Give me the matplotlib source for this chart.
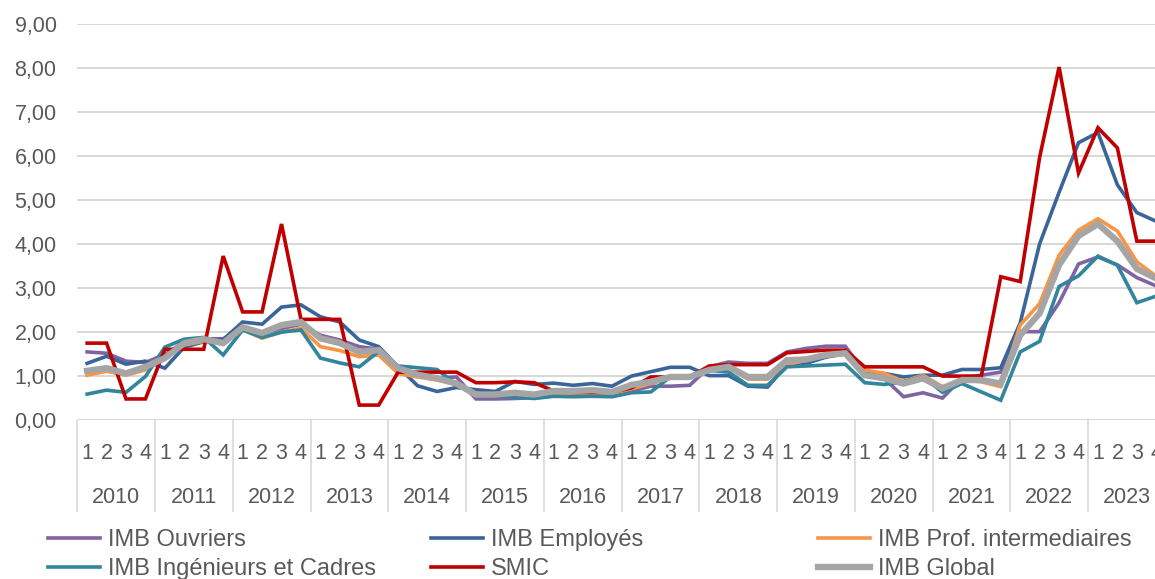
import matplotlib.pyplot as plt
from matplotlib.ticker import FuncFormatter

plt.rcParams['font.family'] = ['Liberation Sans', 'DejaVu Sans']

years = [str(y) for y in range(2010, 2024)]
quarters = ['1', '2', '3', '4']

ouvriers = [1.54, 1.51, 1.33, 1.30, 1.48, 1.77, 1.84, 1.84,
            2.07, 1.96, 2.07, 2.17, 1.92, 1.81, 1.66, 1.60,
            1.12, 1.02, 0.95, 0.97, 0.47, 0.47, 0.48, 0.50,
            0.55, 0.55, 0.57, 0.56, 0.65, 0.76, 0.76, 0.78,
            1.20, 1.31, 1.28, 1.28, 1.54, 1.62, 1.67, 1.67,
            1.08, 0.94, 0.52, 0.61, 0.49, 0.94, 1.01, 1.08,
            2.00, 2.00, 2.66, 3.54, 3.70, 3.52, 3.23, 3.04]
employes = [1.28, 1.44, 1.26, 1.33, 1.17, 1.65, 1.77, 1.82,
            2.22, 2.17, 2.56, 2.61, 2.34, 2.22, 1.81, 1.66,
            1.20, 0.77, 0.64, 0.73, 0.68, 0.64, 0.87, 0.80,
            0.83, 0.78, 0.82, 0.76, 0.99, 1.09, 1.19, 1.19,
            1.00, 1.00, 0.76, 0.74, 1.24, 1.28, 1.42, 1.50,
            1.08, 1.05, 0.97, 1.01, 1.01, 1.14, 1.14, 1.18,
            2.20, 4.00, 5.17, 6.30, 6.53, 5.34, 4.71, 4.51]
prof_inter = [1.01, 1.10, 1.01, 1.13, 1.42, 1.70, 1.78, 1.75,
              2.04, 1.85, 1.99, 2.08, 1.66, 1.57, 1.43, 1.47,
              1.05, 0.97, 0.90, 0.80, 0.55, 0.55, 0.57, 0.55,
              0.58, 0.58, 0.60, 0.58, 0.70, 0.82, 0.95, 0.95,
              1.15, 1.18, 0.92, 0.92, 1.25, 1.35, 1.48, 1.50,
              1.13, 1.05, 0.87, 1.01, 0.75, 0.90, 0.86, 0.75,
              2.15, 2.64, 3.74, 4.31, 4.57, 4.29, 3.59, 3.26]
ingenieurs = [0.58, 0.67, 0.62, 0.98, 1.65, 1.83, 1.87, 1.47,
              2.04, 1.87, 1.99, 2.04, 1.40, 1.29, 1.20, 1.55,
              1.22, 1.18, 1.14, 0.80, 0.54, 0.54, 0.51, 0.48,
              0.53, 0.52, 0.53, 0.52, 0.61, 0.63, 0.97, 0.97,
              1.12, 1.08, 0.78, 0.78, 1.20, 1.22, 1.24, 1.26,
              0.84, 0.80, 0.86, 0.98, 0.62, 0.82, 0.63, 0.44,
              1.54, 1.78, 3.03, 3.27, 3.72, 3.51, 2.66, 2.81]
smic = [1.74, 1.74, 0.47, 0.47, 1.60, 1.60, 1.60, 3.72,
        2.45, 2.45, 4.45, 2.28, 2.28, 2.28, 0.33, 0.33,
        1.08, 1.08, 1.08, 1.08, 0.84, 0.84, 0.86, 0.84,
        0.65, 0.62, 0.62, 0.62, 0.72, 0.97, 0.97, 0.97,
        1.22, 1.25, 1.25, 1.25, 1.52, 1.55, 1.58, 1.58,
        1.20, 1.20, 1.20, 1.20, 0.99, 0.99, 0.99, 3.25,
        3.14, 5.97, 8.02, 5.61, 6.64, 6.18, 4.06, 4.06]
imb_global = [1.11, 1.17, 1.05, 1.20, 1.40, 1.74, 1.83, 1.74,
              2.10, 1.97, 2.15, 2.22, 1.85, 1.74, 1.54, 1.58,
              1.17, 1.02, 0.94, 0.82, 0.57, 0.57, 0.61, 0.57,
              0.65, 0.65, 0.67, 0.63, 0.79, 0.86, 0.97, 0.97,
              1.13, 1.20, 0.97, 0.97, 1.35, 1.37, 1.47, 1.51,
              1.01, 0.94, 0.82, 0.94, 0.71, 0.90, 0.90, 0.82,
              1.92, 2.42, 3.52, 4.18, 4.45, 4.06, 3.43, 3.21]

series = [
    ('IMB Ouvriers', ouvriers, '#8064A2', 2.6),
    ('IMB Employés', employes, '#3A6598', 2.6),
    ('IMB Prof. intermediaires', prof_inter, '#F79646', 2.6),
    ('IMB Ingénieurs et Cadres', ingenieurs, '#31859C', 2.6),
    ('SMIC', smic, '#C00000', 2.6),
    ('IMB Global', imb_global, '#A5A5A5', 4.6),
]

txt = '#595959'
grid = '#D9D9D9'

fig = plt.figure(figsize=(11.55, 5.79), dpi=100)
ax = fig.add_axes([77.4 / 1155, 1 - 419.6 / 579, 1088.6 / 1155, 395.6 / 579])

x = list(range(len(smic)))
handles = []
for name, vals, col, lw in series:
    h, = ax.plot(x, vals, color=col, lw=lw, label=name, solid_joinstyle='miter')
    handles.append(h)

ax.set_xlim(-0.5, len(x) - 0.5)
ax.set_ylim(0, 9)
ax.set_yticks(range(0, 10))
ax.yaxis.set_major_formatter(FuncFormatter(lambda v, p: f"{v:.2f}".replace('.', ',')))
ax.yaxis.grid(True, color=grid, lw=1.5)
ax.set_axisbelow(True)
for s in ax.spines.values():
    s.set_visible(False)
ax.tick_params(axis='y', length=0, pad=15, labelsize=15.5, labelcolor=txt)

# quarter labels on the ticks, years written underneath
ax.set_xticks(x, labels=quarters * len(years))
ax.tick_params(axis='x', length=0, pad=17, labelsize=15.5, labelcolor=txt)

xt = ax.get_xaxis_transform()
bounds = [i * 4 - 0.5 for i in range(len(years) + 1)]
ax.vlines(bounds, -0.234, 0, transform=xt, colors=grid, lw=1.2, clip_on=False)
for i, yr in enumerate(years):
    ax.text(i * 4 + 1.5, -0.198, yr, transform=xt, ha='center', va='center',
            fontsize=15.5, color=txt)

cols = [(0, 3, 48), (1, 4, 431), (2, 5, 818)]
for a, b, px in cols:
    fig.legend([handles[a], handles[b]], [series[a][0], series[b][0]],
               loc='upper left', bbox_to_anchor=(px / 1155, 1 - 529 / 579),
               frameon=False, fontsize=17, handlelength=2.2,
               handletextpad=0.35, labelspacing=0.3, borderpad=0,
               borderaxespad=0, labelcolor=txt)

fig.savefig('out.png', dpi=100)
